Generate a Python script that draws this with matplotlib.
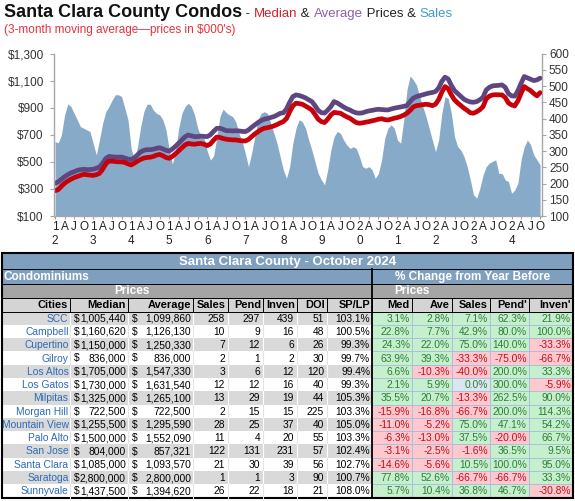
import matplotlib
matplotlib.use('Agg')
import matplotlib.pyplot as plt
from matplotlib.patches import Rectangle

plt.rcParams['font.family'] = ['Liberation Sans', 'DejaVu Sans']

# 3-month moving averages, Jan 2012 .. Oct 2024 (prices in $000's)
median = [
    287, 295, 320, 342, 358, 372, 383, 392, 400, 408, 405, 402,
    400, 405, 415, 445, 485, 505, 505, 502, 500, 500, 495, 485,
    477, 490, 505, 518, 528, 532, 534, 540, 550, 555, 545, 532,
    526, 540, 560, 582, 605, 625, 636, 632, 630, 634, 636, 630,
    620, 632, 660, 683, 680, 672, 667, 664, 662, 662, 658, 655,
    654, 665, 685, 706, 722, 738, 748, 752, 758, 765, 775, 787,
    797, 820, 870, 913, 933, 930, 925, 912, 898, 883, 850, 815,
    797, 790, 815, 846, 865, 862, 859, 845, 832, 822, 805, 790,
    785, 788, 793, 797, 803, 808, 815, 818, 812, 809, 815, 822,
    827, 835, 845, 859, 880, 905, 915, 918, 922, 925, 922, 915,
    925, 960, 1015, 1056, 1040, 995, 957, 935, 915, 896, 880, 862,
    859, 870, 885, 908, 965, 985, 994, 996, 995, 994, 975, 935,
    920, 913, 950, 1006, 1056, 1040, 1026, 1005, 987, 1011,
]
average = [
    342, 352, 372, 390, 405, 418, 427, 437, 442, 445, 442, 443,
    445, 452, 462, 490, 525, 540, 537, 535, 535, 535, 528, 520,
    517, 530, 552, 573, 585, 590, 590, 593, 600, 604, 595, 585,
    579, 595, 615, 638, 660, 685, 698, 692, 686, 686, 690, 688,
    686, 700, 725, 747, 748, 740, 730, 730, 728, 730, 728, 725,
    723, 735, 755, 773, 790, 805, 815, 820, 827, 834, 845, 858,
    862, 890, 940, 982, 994, 990, 982, 972, 958, 945, 915, 880,
    863, 860, 882, 908, 945, 935, 920, 905, 892, 883, 870, 862,
    859, 862, 870, 876, 880, 885, 888, 886, 884, 883, 890, 896,
    901, 905, 910, 916, 945, 970, 982, 988, 995, 1002, 1008, 1012,
    1019, 1045, 1095, 1125, 1112, 1065, 1026, 1005, 985, 962, 950, 942,
    940, 945, 958, 977, 1031, 1050, 1061, 1063, 1065, 1068, 1050, 1005,
    987, 985, 1025, 1080, 1130, 1120, 1110, 1100, 1105, 1118,
]
sales = [
    329, 325, 350, 411, 445, 437, 416, 396, 375, 370, 365, 360,
    324, 288, 334, 385, 421, 437, 457, 473, 473, 467, 432, 396,
    308, 272, 313, 375, 421, 444, 444, 426, 416, 411, 396, 365,
    303, 260, 298, 370, 416, 437, 447, 437, 411, 370, 344, 339,
    300, 272, 285, 340, 406, 429, 418, 411, 406, 390, 355, 330,
    293, 252, 293, 344, 396, 416, 421, 416, 386, 355, 324, 283,
    242, 216, 252, 324, 370, 396, 390, 370, 334, 303, 267, 231,
    211, 196, 242, 303, 344, 360, 355, 334, 319, 308, 313, 308,
    283, 252, 247, 252, 242, 216, 231, 273, 339, 370, 381, 370,
    334, 324, 396, 488, 531, 519, 503, 467, 437, 406, 370, 334,
    298, 334, 416, 467, 462, 416, 344, 313, 303, 283, 252, 211,
    165, 155, 185, 226, 252, 263, 268, 273, 231, 231, 211, 206,
    170, 180, 201, 273, 313, 334, 319, 288, 273, 257,
]
start_year = 2012

# table data, October 2024
cities = ['SCC', 'Campbell', 'Cupertino', 'Gilroy', 'Los Altos', 'Los Gatos', 'Milpitas',
          'Morgan Hill', 'Mountain View', 'Palo Alto', 'San Jose', 'Santa Clara', 'Saratoga', 'Sunnyvale']
med_price = [1005440, 1160620, 1150000, 836000, 1705000, 1730000, 1325000, 722500,
             1255500, 1500000, 804000, 1085000, 2800000, 1437500]
avg_price = [1099860, 1126130, 1250330, 836000, 1547330, 1631540, 1265100, 722500,
             1295590, 1552090, 857321, 1093570, 2800000, 1394620]
n_sales = [258, 10, 7, 2, 3, 12, 13, 2, 28, 11, 122, 21, 1, 26]
n_pend = [297, 9, 12, 1, 6, 12, 29, 15, 25, 4, 131, 30, 1, 22]
n_inven = [439, 16, 6, 2, 12, 16, 19, 15, 37, 20, 231, 39, 3, 18]
doi = [51, 48, 26, 30, 120, 40, 44, 225, 40, 55, 57, 56, 90, 21]
sp_lp = [103.1, 100.5, 99.3, 99.7, 99.4, 99.3, 105.3, 103.3, 105.0, 103.3, 102.4, 102.7, 100.7, 108.0]
chg_med = [3.1, 22.8, 24.3, 63.9, 6.6, 2.1, 35.5, -15.9, -11.0, -6.3, -3.1, -14.6, 77.8, 5.7]
chg_ave = [2.8, 7.7, 22.0, 39.3, -10.3, 5.9, 20.7, -16.8, -5.2, -13.0, -2.5, -5.6, 52.6, 10.4]
chg_sales = [7.1, 42.9, 75.0, -33.3, -40.0, 0.0, -13.3, -66.7, 75.0, 37.5, -1.6, 10.5, -66.7, 36.8]
chg_pend = [62.3, 80.0, 140.0, -75.0, 200.0, 300.0, 262.5, 200.0, 47.1, -20.0, 36.5, 100.0, -66.7, 46.7]
chg_inven = [21.9, 100.0, -33.3, -66.7, 33.3, -5.9, 90.0, 114.3, 54.2, 66.7, 9.5, 95.0, 33.3, -30.8]

W, H = 575, 501
fig = plt.figure(figsize=(W / 100, H / 100), dpi=100)

RED = '#C8000A'
PURPLE = '#5E4680'
BLUE = '#87AAC8'
AXC = '#A6A6A6'
FS = 7.4

# ---------- chart ----------
ax = fig.add_axes([53.5 / W, 1 - 216 / H, (542 - 53.5) / W, (216 - 53.5) / H])
ax2 = ax.twinx()
ax.set_zorder(ax2.get_zorder() + 1)
ax.patch.set_visible(False)

x = list(range(len(sales)))
ax2.fill_between(x, 100, sales, color=BLUE, lw=0)
ax.plot(x, average, color=PURPLE, lw=3.4, solid_capstyle='round')
ax.plot(x, median, color=RED, lw=3.4, solid_capstyle='round')

ax.set_xlim(-0.5, 153.6)
ax.set_ylim(100, 1300)
ax2.set_ylim(100, 600)
ax.set_yticks(range(100, 1301, 200))
ax.set_yticklabels(['$' + format(v, ',') for v in range(100, 1301, 200)])
ax2.set_yticks(range(100, 601, 50))

ticks = list(range(0, len(sales), 3))
labels = []
for i in ticks:
    m = i % 12
    yr = str(start_year + i // 12)
    if m == 0:
        labels.append(yr[2] + '\n' + yr[3])
    else:
        labels.append('AJO'[m // 3 - 1])
ax.set_xticks(ticks)
ax.set_xticklabels(labels, linespacing=1.25)

for a in (ax, ax2):
    a.spines['top'].set_visible(False)
    for s in ('left', 'right', 'bottom'):
        a.spines[s].set_color(AXC)
        a.spines[s].set_linewidth(1)
ax.spines['right'].set_visible(False)
ax2.spines['left'].set_visible(False)
ax2.spines['bottom'].set_visible(False)
ax.tick_params(axis='y', labelsize=8.5, colors='#333333', length=3, pad=4, color=AXC)
ax2.tick_params(axis='y', labelsize=8.5, colors='#333333', length=3, pad=2, color=AXC)
ax.tick_params(axis='x', labelsize=8.5, colors='#222222', length=2, pad=1.5, color=AXC)

# ---------- title ----------
fig.canvas.draw()
r = fig.canvas.get_renderer()
t = fig.text(4 / W, 1 - 17 / H, 'Santa Clara County Condos', fontsize=13, weight='bold',
             color='#111111', va='baseline')
xpos = t.get_window_extent(renderer=r).x1
for txt, col in [(' - ', '#222222'), ('Median', '#D0202A'), (' & ', '#222222'),
                 ('Average', '#8A5FAE'), (' Prices & ', '#222222'), ('Sales', '#3E9AD0')]:
    tt = fig.text(xpos / W, 1 - 17 / H, txt, fontsize=9.5, color=col, va='baseline')
    xpos = tt.get_window_extent(renderer=r).x1
fig.text(4 / W, 1 - 32.5 / H, "(3-month moving average\u2014prices in $000's)", fontsize=8.5,
         color='#E8303A', va='baseline')

# ---------- table ----------
tb = fig.add_axes([0, 0, 1, 1])
tb.set_xlim(0, W)
tb.set_ylim(H, 0)
tb.axis('off')

L, R = 2, 573
MID = 372
cols = [2, 70, 128, 193, 228, 263, 297, 327, 372, 412, 452, 490, 529, 573]
y_title, y_cond, y_prices, y_head, y_data = 253, 269, 284, 298, 311.5
row_h = (497.5 - y_data) / len(cities)
HEADBLUE = '#7EA0BE'

def rect(x0, y0, x1, y1, fc, ec='none', lw=0):
    tb.add_patch(Rectangle((x0, y0), x1 - x0, y1 - y0, facecolor=fc, edgecolor=ec, lw=lw))

rect(L, y_title, R, y_cond, HEADBLUE)
rect(L, y_cond, R, y_prices, HEADBLUE)
rect(L, y_prices, R, y_head, '#A5A5A5')
rect(L, y_head, R, y_data, '#D4D4D4')

tb.text((L + R) / 2, (y_title + y_cond) / 2 + 0.5, 'Santa Clara County - October 2024', fontsize=9.5,
        weight='bold', color='white', ha='center', va='center')
tb.text(L + 2, (y_cond + y_prices) / 2 + 0.5, 'Condominiums', fontsize=8.5, weight='bold',
        color='white', ha='left', va='center')
tb.text((MID + R) / 2, (y_cond + y_prices) / 2 + 0.5, '% Change from Year Before', fontsize=8.5,
        weight='bold', color='white', ha='center', va='center')
tb.text((cols[1] + cols[3]) / 2, (y_prices + y_head) / 2 + 0.5, 'Prices', fontsize=8.5, weight='bold',
        color='white', ha='center', va='center')
tb.text((cols[8] + cols[10]) / 2, (y_prices + y_head) / 2 + 0.5, 'Prices', fontsize=8.5, weight='bold',
        color='white', ha='center', va='center')

headers = ['Cities', 'Median', 'Average', 'Sales', 'Pend', 'Inven', 'DOI', 'SP/LP',
           'Med', 'Ave', 'Sales', "Pend'", "Inven'"]
for j, h in enumerate(headers):
    tb.text(cols[j + 1] - 2, (y_head + y_data) / 2 + 0.5, h, fontsize=7.9, weight='bold',
            color='black', ha='right', va='center')
for cx in cols[1:-1]:
    tb.plot([cx, cx], [y_head, y_data], color='black', lw=0.7)

GREEN_BG, GREEN_TX = '#C6EFCE', '#2E7D32'
RED_BG, RED_TX = '#FFC7CE', '#C0101A'
ZERO_BG = '#DCE6F1'

for i, city in enumerate(cities):
    y0 = y_data + i * row_h
    y1 = y0 + row_h
    yc = (y0 + y1) / 2 + 0.5
    rect(L, y0, MID, y1, '#D9D9D9' if i % 2 == 0 else 'white')
    for cx in cols[1:8]:
        tb.plot([cx, cx], [y0, y1], color='white' if i % 2 == 0 else '#E4E4E4', lw=0.8)
    tb.text(cols[1] - 1.5, yc, city, fontsize=FS, color='#2D6BB5', ha='right', va='center')
    for c0, c1, val in [(cols[1], cols[2], med_price[i]), (cols[2], cols[3], avg_price[i])]:
        tb.text(c0 + 4, yc, '$', fontsize=FS, ha='left', va='center')
        tb.text(c1 - 2, yc, format(val, ','), fontsize=FS, ha='right', va='center')
    for j, val in enumerate([n_sales[i], n_pend[i], n_inven[i], doi[i]]):
        tb.text(cols[4 + j] - 3, yc, str(val), fontsize=FS, ha='right', va='center')
    tb.text(cols[8] - 2, yc, '%.1f%%' % sp_lp[i], fontsize=FS, ha='right', va='center')
    for j, val in enumerate([chg_med[i], chg_ave[i], chg_sales[i], chg_pend[i], chg_inven[i]]):
        if val > 0:
            bg, tx = GREEN_BG, GREEN_TX
        elif val < 0:
            bg, tx = RED_BG, RED_TX
        else:
            bg, tx = ZERO_BG, GREEN_TX
        rect(cols[8 + j], y0, cols[9 + j], y1, bg, ec='#9DB9DC', lw=0.5)
        tb.text(cols[9 + j] - 2, yc, '%.1f%%' % val, fontsize=FS, color=tx, ha='right', va='center')

for yy in (y_cond, y_prices, y_head, y_data):
    tb.plot([L, R], [yy, yy], color='black', lw=0.7)
tb.plot([MID, MID], [y_cond, 497.5], color='black', lw=1.3)
tb.add_patch(Rectangle((L, y_title), R - L, 497.5 - y_title, facecolor='none', edgecolor='black', lw=1.5))

fig.savefig('out.png', dpi=100)
